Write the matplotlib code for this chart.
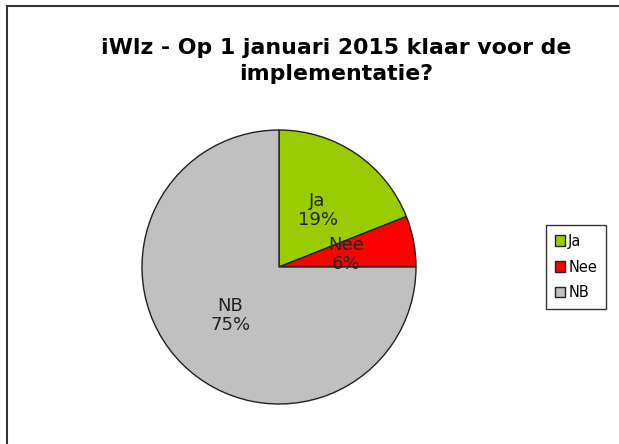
import matplotlib
matplotlib.use("Agg")
from matplotlib import pyplot as plt
from matplotlib.patches import Rectangle
import numpy as np

# pie data
labels = ['Ja', 'Nee', 'NB']
values = [19, 6, 75]
colors = ['#99CC00', '#FF0000', '#C0C0C0']

title = 'iWlz - Op 1 januari 2015 klaar voor de\nimplementatie?'

W, H = 619, 444
fig = plt.figure(figsize=(W / 100, H / 100), dpi=100)

# outer chart frame (right and bottom edges run off the image)
fig.patches.append(Rectangle((7 / W, -0.1), 1.2, 1 - 6 / H + 0.1,
                             transform=fig.transFigure, fill=False,
                             edgecolor='#333333', linewidth=1.5))

fig.text(336 / W, 1 - 61 / H, title, ha='center', va='center',
         fontsize=15.8, fontweight='bold', linespacing=1.35)

# pie centre ~ (279, 267) px, radius ~137 px
cx, cy, r = 279, 267, 137
ax = fig.add_axes([(cx - r) / W, (H - cy - r) / H, 2 * r / W, 2 * r / H])
wedges, texts = ax.pie(values, colors=colors, startangle=90, counterclock=False,
                       wedgeprops=dict(edgecolor='#222222', linewidth=1))
for w, lab, v in zip(wedges, labels, values):
    ang = np.deg2rad((w.theta1 + w.theta2) / 2)
    ax.text(0.5 * np.cos(ang), 0.5 * np.sin(ang), f'{lab}\n{v}%',
            ha='center', va='center', fontsize=13, color='#222222',
            linespacing=1.05)
ax.set_xlim(-1, 1)
ax.set_ylim(-1, 1)
ax.set_aspect('equal')
ax.axis('off')

leg = fig.legend(wedges, labels, loc='center', bbox_to_anchor=(576 / W, 1 - 267 / H),
                 fontsize=10.5, frameon=True, fancybox=False, handlelength=0.7,
                 handleheight=0.7, handletextpad=0.2, borderpad=0.6,
                 labelspacing=0.75, borderaxespad=0)
leg.get_frame().set_edgecolor('black')
leg.get_frame().set_linewidth(1)

fig.savefig('out.png', dpi=100)
